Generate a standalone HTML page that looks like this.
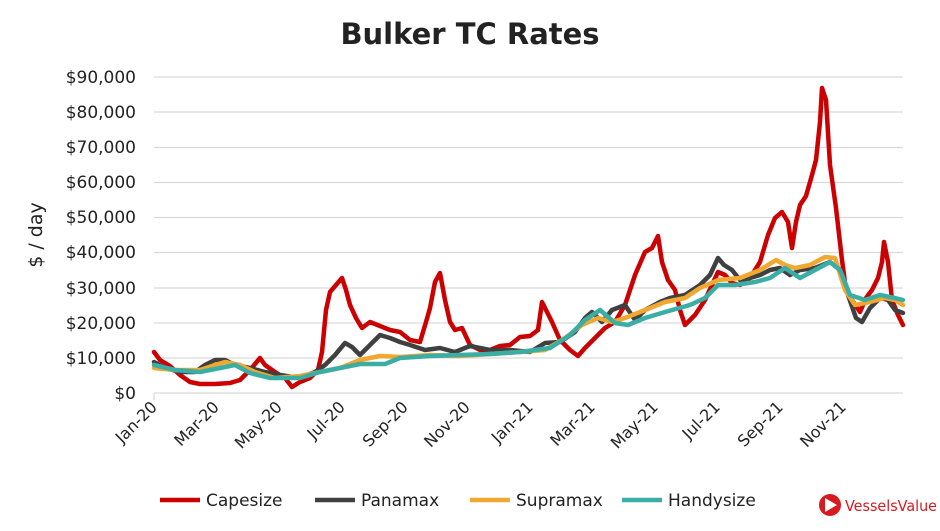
<!DOCTYPE html>
<html><head><meta charset="utf-8"><style>
body{margin:0;background:#fff;}
svg{display:block;font-family:"DejaVu Sans","Liberation Sans",sans-serif;}
</style></head><body>
<svg width="940" height="531" viewBox="0 0 940 531">
<text x="470" y="44" text-anchor="middle" font-size="29" font-weight="bold" fill="#222">Bulker TC Rates</text>
<g stroke="#d9d9d9" stroke-width="1.3">
<line x1="154" x2="903" y1="77" y2="77"/><line x1="154" x2="903" y1="112" y2="112"/><line x1="154" x2="903" y1="147.5" y2="147.5"/><line x1="154" x2="903" y1="182.5" y2="182.5"/><line x1="154" x2="903" y1="217.5" y2="217.5"/><line x1="154" x2="903" y1="252.5" y2="252.5"/><line x1="154" x2="903" y1="288" y2="288"/><line x1="154" x2="903" y1="323" y2="323"/><line x1="154" x2="903" y1="358" y2="358"/><line x1="154" x2="903" y1="393" y2="393"/>
<line x1="154" x2="154" y1="393" y2="400"/>
</g>
<g font-size="17" fill="#222" text-anchor="end">
<text x="136" y="83">$90,000</text><text x="136" y="118">$80,000</text><text x="136" y="153">$70,000</text><text x="136" y="188">$60,000</text><text x="136" y="223">$50,000</text><text x="136" y="258">$40,000</text><text x="136" y="294">$30,000</text><text x="136" y="329">$20,000</text><text x="136" y="364">$10,000</text><text x="136" y="399">$0</text>
</g>
<text transform="translate(42,235) rotate(-90)" text-anchor="middle" font-size="19" fill="#222">$ / day</text>
<g font-size="16" fill="#222" text-anchor="end">
<text transform="translate(158,408) rotate(-45)">Jan-20</text>
<text transform="translate(220,408) rotate(-45)">Mar-20</text>
<text transform="translate(283,408) rotate(-45)">May-20</text>
<text transform="translate(346,408) rotate(-45)">Jul-20</text>
<text transform="translate(409,408) rotate(-45)">Sep-20</text>
<text transform="translate(471,408) rotate(-45)">Nov-20</text>
<text transform="translate(534,408) rotate(-45)">Jan-21</text>
<text transform="translate(596,408) rotate(-45)">Mar-21</text>
<text transform="translate(659,408) rotate(-45)">May-21</text>
<text transform="translate(721,408) rotate(-45)">Jul-21</text>
<text transform="translate(784,408) rotate(-45)">Sep-21</text>
<text transform="translate(847,408) rotate(-45)">Nov-21</text>
</g>
<g fill="none" stroke-width="4.5" stroke-linejoin="round" stroke-linecap="round">
<polyline stroke="#cc0000" points="154,352 160,360 170,366 180,375 190,382 200,384 215,384 230,383 240,380 250,370 260,358 265,365 275,372 285,378 292,387 300,382 310,378 318,370 322,352 326,310 330,292 336,285 342,278 346,290 350,305 356,318 362,328 370,322 380,326 390,330 400,332 410,340 420,342 426,322 430,308 435,282 440,273 445,300 450,322 455,330 462,328 470,345 480,350 490,350 500,346 510,345 520,337 530,336 538,330 542,302 546,310 552,322 560,340 570,350 578,356 585,348 595,338 605,328 615,322 625,305 635,275 645,252 652,248 658,236 662,262 668,280 675,290 680,310 685,325 695,315 705,300 712,285 718,272 725,275 732,283 740,285 750,278 760,262 768,235 775,218 782,212 788,222 792,248 796,222 800,205 806,196 812,175 816,160 820,122 822,88 826,100 830,165 836,208 842,260 846,290 852,300 860,312 866,298 872,290 878,278 882,262 884,242 888,262 892,300 898,315 903,325"/>
<polyline stroke="#404040" points="154,362 165,368 180,372 195,372 205,365 215,360 225,360 235,365 250,368 265,372 280,375 300,378 315,372 325,365 335,355 345,343 352,347 360,355 370,345 380,335 390,338 400,342 410,345 425,350 440,348 455,352 470,346 490,350 510,350 530,352 545,343 560,342 575,332 585,318 592,312 602,322 612,310 625,305 635,320 645,310 660,302 670,298 685,295 700,285 710,275 718,258 724,265 732,270 740,280 750,278 760,275 770,270 780,268 790,275 800,270 815,268 830,262 840,270 848,295 856,318 862,322 870,308 880,298 888,300 895,310 903,313"/>
<polyline stroke="#f0a830" points="154,368 175,370 200,370 215,365 225,362 240,365 255,372 275,378 300,376 320,372 340,368 360,360 380,356 400,357 430,355 460,356 490,354 520,352 545,350 565,338 582,325 598,318 612,322 625,318 645,310 665,302 685,298 700,288 718,280 740,278 760,270 776,260 785,265 795,268 810,265 825,257 835,258 845,290 855,305 870,302 885,298 895,300 903,305"/>
<polyline stroke="#3aada5" points="154,365 175,370 200,372 220,368 235,365 250,373 270,378 300,378 320,372 340,368 360,364 385,364 400,358 430,356 460,355 490,354 520,352 550,348 570,335 585,320 600,310 615,323 628,325 645,318 665,312 690,305 705,298 718,285 735,285 755,282 770,278 785,268 800,278 815,270 830,262 840,270 850,295 865,300 880,295 895,298 903,300"/>
</g>
<g stroke-width="4.5">
<line x1="160" x2="200" y1="500" y2="500" stroke="#cc0000"/>
<line x1="315" x2="355" y1="500" y2="500" stroke="#404040"/>
<line x1="470" x2="510" y1="500" y2="500" stroke="#f0a830"/>
<line x1="622" x2="662" y1="500" y2="500" stroke="#3aada5"/>
</g>
<g font-size="17" fill="#222">
<text x="206" y="506">Capesize</text><text x="361" y="506">Panamax</text><text x="516" y="506">Supramax</text><text x="668" y="506">Handysize</text>
</g>
<circle cx="830" cy="505" r="11" fill="#d71920"/>
<polygon points="825,498 837,505 825,512" fill="#fff"/>
<text x="845" y="511" font-size="15" fill="#d71920" textLength="92" lengthAdjust="spacingAndGlyphs">VesselsValue</text>
</svg>
</body></html>
